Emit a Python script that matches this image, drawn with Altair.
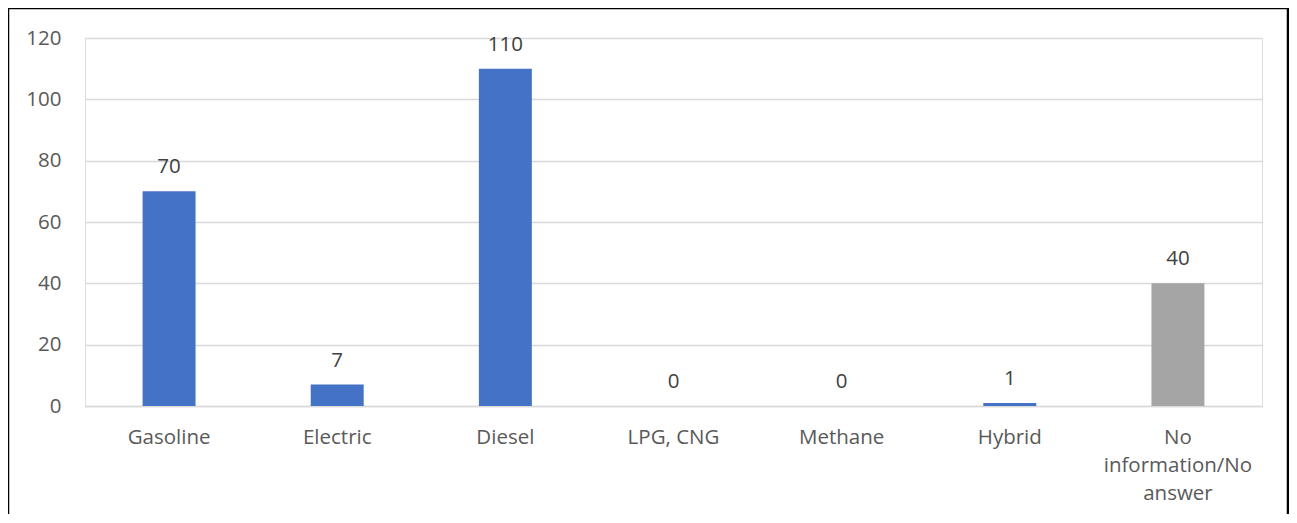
import altair as alt
import pandas as pd

categories = ["Gasoline", "Electric", "Diesel", "LPG, CNG", "Methane", "Hybrid", "No information/No answer"]
values = [70, 7, 110, 0, 0, 1, 40]
colors = ["#4472C4", "#4472C4", "#4472C4", "#4472C4", "#4472C4", "#4472C4", "#A5A5A5"]
y_ticks = [0, 20, 40, 60, 80, 100, 120]

df = pd.DataFrame({"cat": categories, "val": values, "color": colors})

FONT = "Open Sans"
TXT = "#595959"
FS = 20.5

x_enc = alt.X(
    "cat:N",
    sort=categories,
    title=None,
    scale=alt.Scale(paddingInner=0.685, paddingOuter=0.3425),
    axis=alt.Axis(
        labelAngle=0,
        labelFont=FONT,
        labelFontSize=FS,
        labelColor=TXT,
        labelPadding=21,
        labelLineHeight=28,
        labelExpr="datum.label == 'No information/No answer' ? ['No', 'information/No', 'answer'] : datum.label",
        ticks=False,
        domain=True,
        domainColor="#D9D9D9",
        domainWidth=1.5,
        grid=False,
    ),
)

y_enc = alt.Y(
    "val:Q",
    title=None,
    scale=alt.Scale(domain=[0, 120], nice=False),
    axis=alt.Axis(
        values=y_ticks,
        labelFont=FONT,
        labelFontSize=FS,
        labelColor=TXT,
        labelPadding=24,
        ticks=False,
        domain=False,
        grid=True,
        gridColor="#D9D9D9",
        gridWidth=1.5,
    ),
)

bars = alt.Chart(df).mark_bar().encode(
    x=x_enc,
    y=y_enc,
    color=alt.Color("color:N", scale=None),
)

labels = alt.Chart(df).mark_text(
    font=FONT, fontSize=FS, color="#404040", baseline="alphabetic", dy=-18
).encode(
    x=alt.X("cat:N", sort=categories),
    y=alt.Y("val:Q"),
    text=alt.Text("val:Q"),
)

border = alt.Chart(pd.DataFrame({"a": [0]})).mark_rect(
    fill=None, stroke="#000000", strokeWidth=2.5
).encode(
    x=alt.value(-77), x2=alt.value(1203),
    y=alt.value(-30), y2=alt.value(600),
)

chart = alt.layer(bars, labels, border).properties(
    width=1177,
    height=368,
    autosize=alt.AutoSizeParams(type="none"),
    padding={"left": 77, "top": 30, "right": 27, "bottom": 108},
).configure_view(stroke=None).configure(background="white")

chart.save("out.html", embed_options={"renderer": "svg", "actions": False})
